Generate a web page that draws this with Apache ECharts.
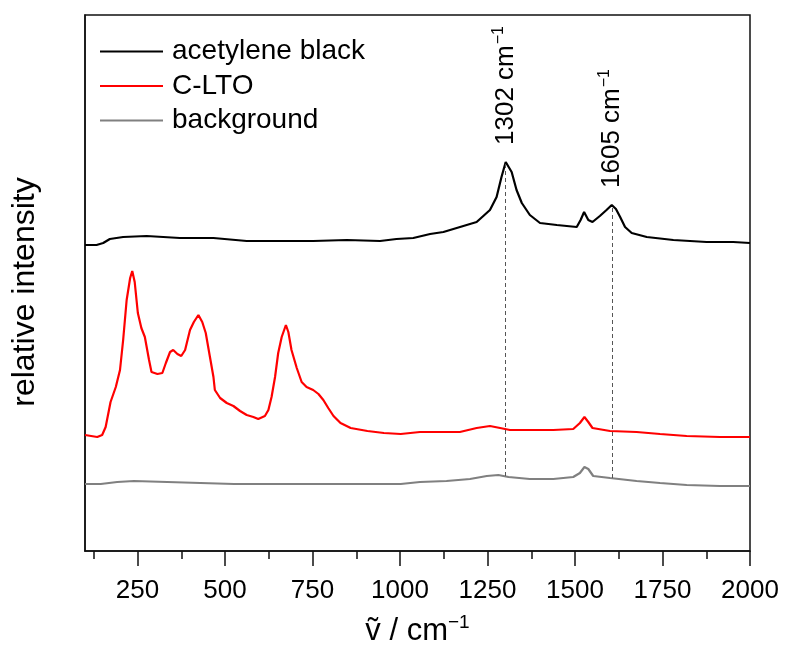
<!DOCTYPE html>
<html>
<head>
<meta charset="utf-8">
<script src="https://cdn.jsdelivr.net/npm/echarts@6/dist/echarts.min.js"></script>
<style>
  html, body { margin: 0; padding: 0; background: #fff; }
  #chart { width: 786px; height: 655px; }
</style>
</head>
<body>
<div id="chart"></div>
<script>
const FONT = '"Liberation Sans", Arial, Helvetica, sans-serif';

// Raman spectra: wavenumber (cm-1) and relative intensity (offset traces)
const blackNu = [100, 133, 152, 171, 209, 276, 371, 467, 562, 657, 752, 848, 943, 990, 1038, 1086, 1124, 1162, 1219, 1257, 1276, 1290, 1302, 1319, 1333, 1348, 1371, 1400, 1448, 1505, 1516, 1526, 1538, 1550, 1571, 1590, 1605, 1617, 1629, 1643, 1662, 1705, 1781, 1876, 1952, 2000];
const blackI  = [306, 306, 308, 312, 314, 315, 313, 313, 310, 310, 310, 311, 310, 312, 313, 317, 319, 323, 329, 341, 354, 374, 389, 379, 361, 348, 336, 328, 326, 324, 331, 339, 331, 329, 335, 341, 346, 342, 334, 324, 318, 314, 311, 309, 309, 308];

const redNu = [100, 135, 149, 159, 173, 188, 200, 209, 219, 229, 235, 242, 251, 261, 271, 283, 290, 307, 321, 331, 343, 352, 364, 375, 386, 400, 411, 424, 435, 445, 457, 467, 471, 486, 505, 524, 543, 562, 581, 595, 614, 624, 633, 643, 652, 662, 674, 681, 690, 705, 719, 733, 752, 767, 781, 795, 810, 830, 859, 907, 954, 1002, 1057, 1114, 1171, 1219, 1257, 1286, 1314, 1371, 1438, 1495, 1514, 1527, 1538, 1550, 1600, 1676, 1743, 1819, 1914, 2000];
const redI  = [116, 114, 116, 124, 149, 164, 181, 211, 251, 273, 280, 269, 238, 223, 214, 191, 179, 177, 178, 188, 199, 201, 197, 195, 201, 221, 229, 236, 229, 218, 194, 174, 161, 153, 148, 145, 140, 136, 134, 132, 135, 141, 154, 174, 198, 214, 226, 219, 201, 183, 169, 164, 161, 157, 151, 143, 135, 128, 123, 120, 118, 117, 119, 119, 119, 123, 125, 123, 121, 121, 121, 122, 128, 134, 129, 123, 120, 119, 117, 115, 114, 114];

const grayNu = [100, 145, 192, 240, 335, 430, 526, 621, 716, 811, 907, 1002, 1057, 1133, 1200, 1248, 1281, 1310, 1371, 1438, 1495, 1514, 1527, 1538, 1552, 1600, 1676, 1743, 1819, 1914, 2000];
const grayI  = [67, 67, 69, 70, 69, 68, 67, 67, 67, 67, 67, 67, 69, 70, 72, 75, 76, 74, 72, 72, 74, 78, 84, 82, 75, 73, 70, 68, 66, 65, 65];

// Axis ticks
const majorTicks = [250, 500, 750, 1000, 1250, 1500, 1750, 2000];
const minorTicks = [125, 375, 625, 875, 1125, 1375, 1625, 1875];

// Marked bands of acetylene black
const peakNu   = [1302, 1605];
const peakTop  = [389, 346];
const peakBase = [75, 73];

function pairs(nu, vals) { return nu.map((v, i) => [v, vals[i]]); }

const supRich = {
  a: { fontFamily: FONT, fontSize: 26, color: '#000', lineHeight: 30 },
  s: { fontFamily: FONT, fontSize: 16, color: '#000', lineHeight: 16, verticalAlign: 'top', padding: [0, 0, 0, 1] }
};

const chart = echarts.init(document.getElementById('chart'), null, { renderer: 'canvas' });

chart.setOption({
  animation: false,
  backgroundColor: '#fff',
  grid: {
    left: 85, right: 36, top: 15, bottom: 104,
    show: true, borderColor: '#111', borderWidth: 1.5, backgroundColor: 'transparent'
  },
  legend: {
    orient: 'vertical',
    left: 95, top: 32,
    icon: 'rect',
    itemWidth: 63, itemHeight: 2, itemGap: 5.5,
    textStyle: { fontFamily: FONT, fontSize: 28, color: '#000', padding: [0, 0, 0, 4], lineHeight: 29 },
    data: ['acetylene black', 'C-LTO', 'background']
  },
  xAxis: [
    {
      type: 'value', min: 100, max: 2000,
      name: '{a|ṽ / cm}{s|−1}',
      nameLocation: 'middle', nameGap: 62,
      nameTextStyle: {
        rich: {
          a: { fontFamily: FONT, fontSize: 31, color: '#000', lineHeight: 36 },
          s: { fontFamily: FONT, fontSize: 19, color: '#000', lineHeight: 19, verticalAlign: 'top' }
        }
      },
      axisLine: { show: true, lineStyle: { color: '#111', width: 1.5 } },
      axisTick: { show: true, inside: false, length: 15, lineStyle: { color: '#111', width: 1.5 }, customValues: majorTicks },
      axisLabel: {
        show: true, margin: 27, fontFamily: FONT, fontSize: 26, color: '#000',
        customValues: majorTicks, formatter: v => String(v)
      },
      splitLine: { show: false }
    },
    {
      type: 'value', min: 100, max: 2000, position: 'bottom',
      axisLine: { show: false },
      axisTick: { show: true, inside: false, length: 8, lineStyle: { color: '#111', width: 1.5 }, customValues: minorTicks },
      axisLabel: { show: false },
      splitLine: { show: false }
    }
  ],
  yAxis: {
    type: 'value', min: 0, max: 536,
    name: 'relative intensity',
    nameLocation: 'middle', nameGap: 44,
    nameTextStyle: { fontFamily: FONT, fontSize: 32, color: '#000', padding: [0, 18, 0, 0] },
    axisLine: { show: true, lineStyle: { color: '#111', width: 1.5 } },
    axisTick: { show: false },
    axisLabel: { show: false },
    splitLine: { show: false }
  },
  series: [
    {
      name: 'acetylene black', type: 'line', symbol: 'none',
      data: pairs(blackNu, blackI),
      lineStyle: { color: '#000', width: 2.2 }, itemStyle: { color: '#000' },
      z: 3,
      markLine: {
        silent: true, symbol: 'none',
        lineStyle: { color: '#555', type: [4, 3], width: 1 },
        label: { show: false },
        data: peakNu.map((v, i) => [{ coord: [v, peakBase[i]] }, { coord: [v, peakTop[i]] }])
      },
      markPoint: {
        silent: true, symbol: 'circle', symbolSize: 0,
        data: peakNu.map((v, i) => ({
          coord: [v, peakTop[i]],
          label: {
            show: true, position: 'top', distance: 17, rotate: 90,
            align: 'left', verticalAlign: 'middle',
            formatter: '{a|' + v + ' cm}{s|−1}',
            rich: supRich
          }
        }))
      }
    },
    {
      name: 'C-LTO', type: 'line', symbol: 'none',
      data: pairs(redNu, redI),
      lineStyle: { color: '#ff0000', width: 2.2 }, itemStyle: { color: '#ff0000' },
      z: 2
    },
    {
      name: 'background', type: 'line', symbol: 'none',
      data: pairs(grayNu, grayI),
      lineStyle: { color: '#808080', width: 2.2 }, itemStyle: { color: '#808080' },
      z: 1
    }
  ]
});
</script>
</body>
</html>
